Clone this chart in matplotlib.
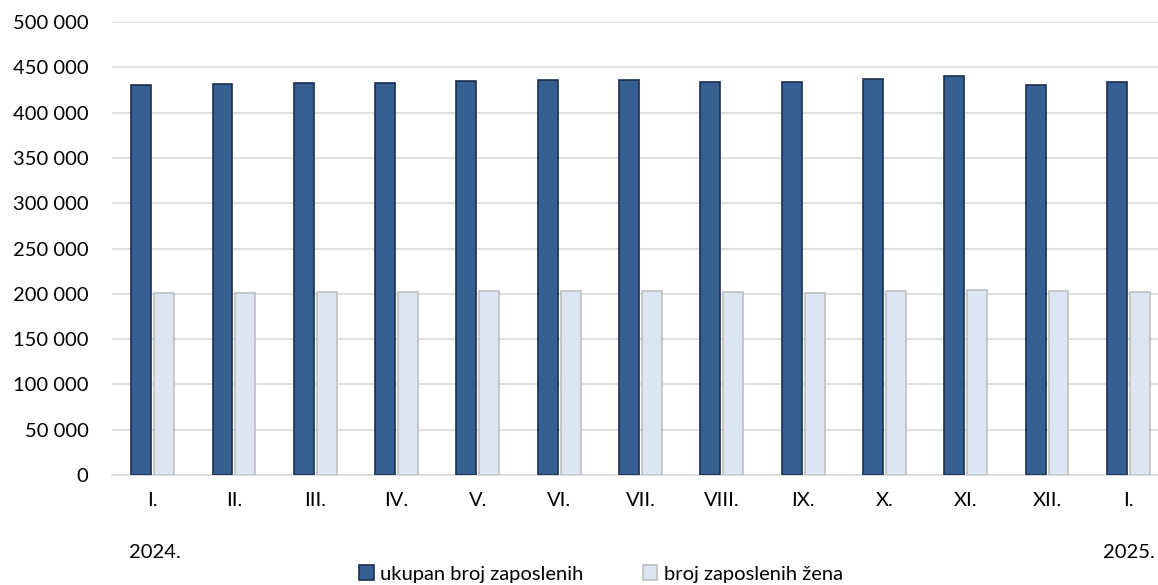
import matplotlib
matplotlib.use("Agg")
import matplotlib.pyplot as plt
import numpy as np
from matplotlib.ticker import FuncFormatter

plt.rcParams['font.family'] = ['Lato', 'DejaVu Sans']

months = ["I.", "II.", "III.", "IV.", "V.", "VI.", "VII.", "VIII.", "IX.", "X.", "XI.", "XII.", "I."]
total = [430700, 431400, 432500, 433200, 434700, 435800, 436200, 434000, 433600, 437300, 440100, 430700, 433600]
women = [201100, 201100, 201500, 202200, 202600, 203300, 203300, 201500, 200700, 202600, 204000, 202900, 201800]
labels = ["ukupan broj zaposlenih", "broj zaposlenih žena"]
years = ["2024.", "2025."]

FS = 14.5

fig = plt.figure(figsize=(11.58, 5.85), dpi=100)
ax = fig.add_axes([112/1158, 1-475/585, (1169-112)/1158, (475-22)/585])

x = np.arange(len(months))
w = 0.245
ax.bar(x - 0.141, total, w, color="#355F91", edgecolor="#1B2F4F", linewidth=1.2, label=labels[0], zorder=3)
ax.bar(x + 0.141, women, w, color="#DCE6F2", edgecolor="#BFBFBF", linewidth=1.2, label=labels[1], zorder=3)

ax.set_xlim(-0.5, len(months) - 0.5)
ax.set_ylim(0, 500000)
ax.set_yticks(np.arange(0, 500001, 50000))
ax.yaxis.set_major_formatter(FuncFormatter(lambda v, p: f"{int(v):,}".replace(",", " ")))
ax.grid(axis="y", color="#D9D9D9", linewidth=1.2, zorder=0)
ax.set_xticks(x)
ax.set_xticklabels(months)
ax.tick_params(axis="both", length=0, labelsize=FS, colors="#000000")
ax.tick_params(axis="x", pad=12)
ax.tick_params(axis="y", pad=17)
for s in ["top", "right", "left"]:
    ax.spines[s].set_visible(False)
ax.spines["bottom"].set_color("#D9D9D9")
ax.spines["bottom"].set_linewidth(1.2)

fig.text(155/1158, 1-553/585, years[0], ha="center", va="center", fontsize=FS)
fig.text(1155/1158, 1-553/585, years[1], ha="right", va="center", fontsize=FS)

fig.legend(loc="center", bbox_to_anchor=(601/1158, 1-574/585), ncol=2, frameon=False,
           fontsize=FS, handlelength=0.7, handleheight=0.7, handletextpad=0.3, columnspacing=3.0)

fig.savefig("out.png", dpi=100)
